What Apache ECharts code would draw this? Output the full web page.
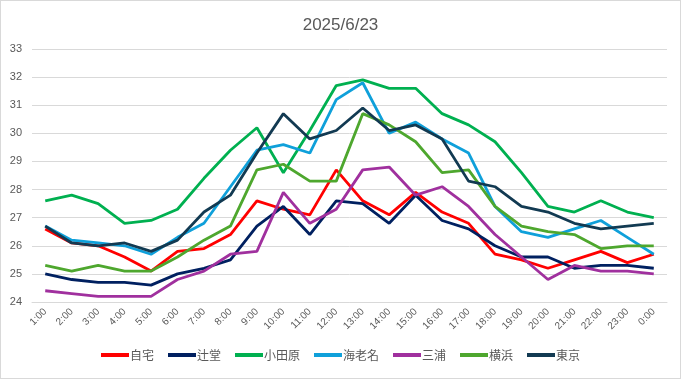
<!DOCTYPE html>
<html><head><meta charset="utf-8">
<script src="https://cdn.jsdelivr.net/npm/echarts@6/dist/echarts.min.js"></script>
<style>
html,body{margin:0;padding:0;background:#fff;}
#c{width:679px;height:377px;border:1px solid #d9d9d9;}
</style></head><body>
<div id="c"></div>
<script>
const categories = ['1:00','2:00','3:00','4:00','5:00','6:00','7:00','8:00','9:00','10:00','11:00','12:00','13:00','14:00','15:00','16:00','17:00','18:00','19:00','20:00','21:00','22:00','23:00','0:00'];
const jitaku   = [26.6,26.1,26.0,25.6,25.1,25.8,25.9,26.4,27.6,27.3,27.1,28.7,27.6,27.1,27.9,27.2,26.8,25.7,25.5,25.2,25.5,25.8,25.4,25.7];
const tsujido  = [25.0,24.8,24.7,24.7,24.6,25.0,25.2,25.5,26.7,27.4,26.4,27.6,27.5,26.8,27.8,26.9,26.6,26.0,25.6,25.6,25.2,25.3,25.3,25.2];
const odawara  = [27.6,27.8,27.5,26.8,26.9,27.3,28.4,29.4,30.2,28.6,30.1,31.7,31.9,31.6,31.6,30.7,30.3,29.7,28.6,27.4,27.2,27.6,27.2,27.0];
const ebina    = [26.7,26.2,26.1,26.0,25.7,26.3,26.8,28.1,29.4,29.6,29.3,31.2,31.8,30.0,30.4,29.8,29.3,27.4,26.5,26.3,26.6,26.9,26.3,25.7];
const miura    = [24.4,24.3,24.2,24.2,24.2,24.8,25.1,25.7,25.8,27.9,26.8,27.3,28.7,28.8,27.8,28.1,27.4,26.4,25.6,24.8,25.3,25.1,25.1,25.0];
const yokohama = [25.3,25.1,25.3,25.1,25.1,25.6,26.2,26.7,28.7,28.9,28.3,28.3,30.7,30.3,29.7,28.6,28.7,27.4,26.7,26.5,26.4,25.9,26.0,26.0];
const tokyo    = [26.7,26.1,26.0,26.1,25.8,26.2,27.2,27.8,29.3,30.7,29.8,30.1,30.9,30.1,30.3,29.8,28.3,28.1,27.4,27.2,26.8,26.6,26.7,26.8];
const seriesNames = ['自宅','辻堂','小田原','海老名','三浦','横浜','東京'];
const seriesData = [jitaku,tsujido,odawara,ebina,miura,yokohama,tokyo];
const colors = ['#FF0000','#002060','#00B050','#0FA0DA','#A0309E','#4EA72E','#123A52'];
const yTicks = {min:24,max:33,interval:1};

const chart = echarts.init(document.getElementById('c'),null,{renderer:'canvas'});
chart.setOption({
  animation:false,
  color:colors,
  textStyle:{fontFamily:'"Liberation Sans","Noto Sans CJK JP",sans-serif'},
  title:{text:'2025/6/23',left:'center',top:11,textStyle:{color:'#595959',fontSize:17,fontWeight:'normal',fontFamily:'"Liberation Sans",sans-serif'}},
  legend:{bottom:12,itemWidth:28,itemHeight:4,itemGap:14,icon:'rect',
    textStyle:{color:'#595959',fontSize:12,fontFamily:'"Noto Sans CJK JP",sans-serif',padding:[0,0,0,-4]},
    data:seriesNames},
  grid:{left:31,right:13,top:48,bottom:76,containLabel:false},
  xAxis:{type:'category',data:categories,boundaryGap:true,
    axisLine:{lineStyle:{color:'#d9d9d9'}},axisTick:{show:false},
    axisLabel:{rotate:45,color:'#595959',fontSize:10,margin:8,interval:0}},
  yAxis:{type:'value',min:yTicks.min,max:yTicks.max,interval:yTicks.interval,
    axisLine:{show:false},axisTick:{show:false},
    splitLine:{lineStyle:{color:'#d9d9d9'}},
    axisLabel:{color:'#595959',fontSize:11,margin:10}},
  series:seriesNames.map((n,i)=>({name:n,type:'line',data:seriesData[i],showSymbol:false,symbol:'none',
    lineStyle:{width:2.8,color:colors[i]},itemStyle:{color:colors[i]}}))
});
</script></body></html>
